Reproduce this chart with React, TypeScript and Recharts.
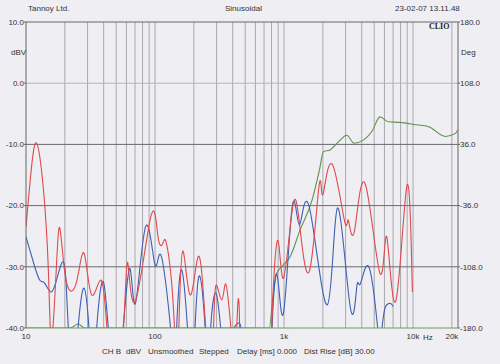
import React from 'react';
import { LineChart, Line, XAxis, YAxis, ReferenceLine } from 'recharts';

const FONT = '"Liberation Sans", Arial, sans-serif';

// frequency axis
const FREQ_TICKS = [10, 100, 1000, 10000, 20000];
const FREQ_TICK_LABELS = ['10', '100', '1k', '10k', '20k'];
const GRID_FREQS = [
  20, 30, 40, 50, 60, 70, 80, 90, 100,
  200, 300, 400, 500, 600, 700, 800, 900, 1000,
  2000, 3000, 4000, 5000, 6000, 7000, 8000, 9000, 10000, 20000,
];
const DBV_TICKS = [-40, -30, -20, -10, 0, 10];
const DEG_TICKS = [-180, -108, -36, 36, 108, 180];

// red trace
const RED_HZ = [10, 11, 12.1, 13.6, 14.9, 15.8, 17.3, 18.3, 19.5, 21.3, 24.7, 28.2, 32.3, 38.6, 43.5, 50, 57, 61.4, 70, 92.6, 105, 114, 122, 135, 143, 148, 153, 164, 187, 216.7, 240, 251, 267, 284, 297, 329, 353, 380, 393, 410, 430, 443, 452, 470, 600, 780, 803, 888, 989, 1167, 1330, 1572, 1846, 1950, 2050, 2387, 2950, 3150, 3510, 4247, 5549, 6255, 7345, 8935, 9880];
const RED_DBV = [-23.5, -14, -9.8, -17, -30.5, -42, -29, -23.7, -29, -33.5, -32.4, -27.8, -34.6, -32.3, -43, -50, -40, -29.3, -35.7, -21.9, -24.8, -26.3, -26.0, -33, -42, -47, -40, -27.4, -34.6, -28.3, -36, -42, -47, -40, -33.0, -35.4, -32.8, -38, -42, -47, -40, -35.2, -40, -47, -50, -47, -40, -25.7, -31.9, -20.2, -23.7, -30.7, -17.7, -17.4, -17.2, -13.4, -22.6, -22.4, -24.2, -16.4, -31.1, -25.1, -35.6, -16.9, -34.1];

// blue trace
const BLUE_HZ = [10, 11.5, 12.8, 14, 15.8, 17.8, 19.5, 20.5, 21.5, 23, 25.3, 28.2, 31, 33, 35.3, 39.7, 44.2, 50, 56.6, 64, 70.7, 84.7, 100, 112, 134.5, 141, 147, 161, 181, 192, 204, 222, 248, 259, 270, 297, 329, 355, 381, 451, 480, 600, 780, 803, 877, 989, 1158, 1315, 1572, 2168, 2591, 3251, 3660, 3900, 4508, 5200, 5549, 5900, 6255, 6700, 7000];
const BLUE_DBV = [-25.1, -29.5, -32.2, -32.7, -34.1, -31.1, -29.2, -33, -42, -48, -40, -33.5, -41, -48, -40, -32.4, -42, -48, -40, -30.3, -35.9, -23.4, -29.7, -28.3, -42, -48, -40, -30.5, -42, -48, -40, -31.5, -42, -48, -40, -34.3, -42, -48, -42, -39.2, -43, -50, -47, -42, -31.1, -37.6, -20.1, -23.2, -20.3, -36.2, -20.4, -36.4, -33.3, -32.8, -29.9, -38, -42, -38, -36.2, -36.0, -36.5];

// green trace
const GREEN_HZ = [10, 22, 23.5, 25.3, 27, 28.5, 769, 820, 877, 989, 1116, 1330, 1649, 1880, 2018, 2275, 2640, 3064, 3490, 4120, 4790, 5549, 6440, 7930, 10600, 13200, 17800, 21300, 22300];
const GREEN_DBV = [-40, -40, -39.7, -39.3, -39.7, -40, -40, -35, -31.1, -29.7, -28.3, -24, -19.1, -14.2, -11.2, -10.9, -9.6, -8.5, -9.8, -9.3, -7.9, -5.5, -6.3, -6.4, -6.8, -7.1, -8.7, -8.2, -7.6];

const toRows = (hz: number[], v: number[]) => hz.map((f, i) => ({ f, v: v[i] }));
const redData = toRows(RED_HZ, RED_DBV);
const blueData = toRows(BLUE_HZ, BLUE_DBV);
const greenData = toRows(GREEN_HZ, GREEN_DBV);
// keeps the right-hand phase axis alive (nothing visible is drawn)
const phaseAnchor = [{ f: 10, v: -180 }, { f: 20000, v: 180 }];

const tickStyle = { fontSize: 8, fill: '#333', fontFamily: FONT };
const txt = (left: number, top: number, extra: React.CSSProperties = {}): React.CSSProperties => ({
  position: 'absolute', left, top, fontSize: 8, lineHeight: '10px', color: '#333', fontFamily: FONT, whiteSpace: 'pre', ...extra,
});

export default function App() {
  return (
    <div style={{ position: 'absolute', left: 0, top: 0, width: 500, height: 364, background: '#efeef3', overflow: 'hidden' }}>
      <LineChart width={500} height={364} margin={{ top: 22, right: 0, bottom: 0, left: 0 }}>
        <XAxis
          dataKey="f"
          type="number"
          scale="log"
          domain={[10, 22300]}
          allowDataOverflow
          ticks={FREQ_TICKS}
          tickFormatter={(v: number) => FREQ_TICK_LABELS[FREQ_TICKS.indexOf(v)] ?? ''}
          tick={tickStyle}
          tickLine={false}
          tickSize={3}
          tickMargin={2}
          height={36}
          axisLine={{ stroke: '#6f9a5e' }}
          interval={0}
        />
        <YAxis
          yAxisId="db"
          domain={[-40, 10]}
          allowDataOverflow
          ticks={DBV_TICKS}
          tickFormatter={(v: number) => v.toFixed(1)}
          tick={tickStyle}
          tickSize={2}
          tickMargin={0}
          tickLine={{ stroke: '#666' }}
          axisLine={{ stroke: '#666' }}
          width={26}
          interval={0}
        />
        <YAxis
          yAxisId="deg"
          orientation="right"
          domain={[-180, 180]}
          allowDataOverflow
          ticks={DEG_TICKS}
          tickFormatter={(v: number) => v.toFixed(1)}
          tick={tickStyle}
          tickSize={2}
          tickMargin={0}
          tickLine={{ stroke: '#666' }}
          axisLine={{ stroke: '#666' }}
          width={42}
          interval={0}
        />
        {GRID_FREQS.map(f => (
          <ReferenceLine key={f} x={f} yAxisId="db" stroke="#a9a9ad" strokeWidth={1} />
        ))}
        <ReferenceLine y={0} yAxisId="db" stroke="#b4b4b8" />
        <ReferenceLine y={-10} yAxisId="db" stroke="#6a6a6e" />
        <ReferenceLine y={-20} yAxisId="db" stroke="#6a6a6e" />
        <ReferenceLine y={-30} yAxisId="db" stroke="#6a6a6e" />
        <ReferenceLine y={10} yAxisId="db" stroke="#666" />
        <Line data={phaseAnchor} dataKey="v" yAxisId="deg" stroke="none" dot={false} activeDot={false} isAnimationActive={false} />
        <Line data={greenData} dataKey="v" yAxisId="db" type="monotone" stroke="#62904e" strokeWidth={1.1} dot={false} isAnimationActive={false} />
        <Line data={blueData} dataKey="v" yAxisId="db" type="natural" stroke="#3d5fb4" strokeWidth={1.1} dot={false} isAnimationActive={false} />
        <Line data={redData} dataKey="v" yAxisId="db" type="natural" stroke="#de4a4e" strokeWidth={1.1} dot={false} isAnimationActive={false} />
      </LineChart>

      <div style={txt(28, 4)}>Tannoy Ltd.</div>
      <div style={txt(225, 4)}>Sinusoidal</div>
      <div style={txt(395, 4)}>23-02-07 13.11.48</div>
      <div style={txt(429, 22, { fontFamily: '"Liberation Serif", serif', fontWeight: 'bold', color: '#222' })}>CLIO</div>
      <div style={txt(11, 48)}>dBV</div>
      <div style={txt(461, 48)}>Deg</div>
      <div style={txt(423, 333)}>Hz</div>
      <div style={txt(102, 347)}>CH B</div>
      <div style={txt(126, 347)}>dBV</div>
      <div style={txt(148, 347)}>Unsmoothed</div>
      <div style={txt(199, 347)}>Stepped</div>
      <div style={txt(237, 347)}>Delay [ms] 0.000</div>
      <div style={txt(304, 347)}>Dist Rise [dB] 30.00</div>
    </div>
  );
}
